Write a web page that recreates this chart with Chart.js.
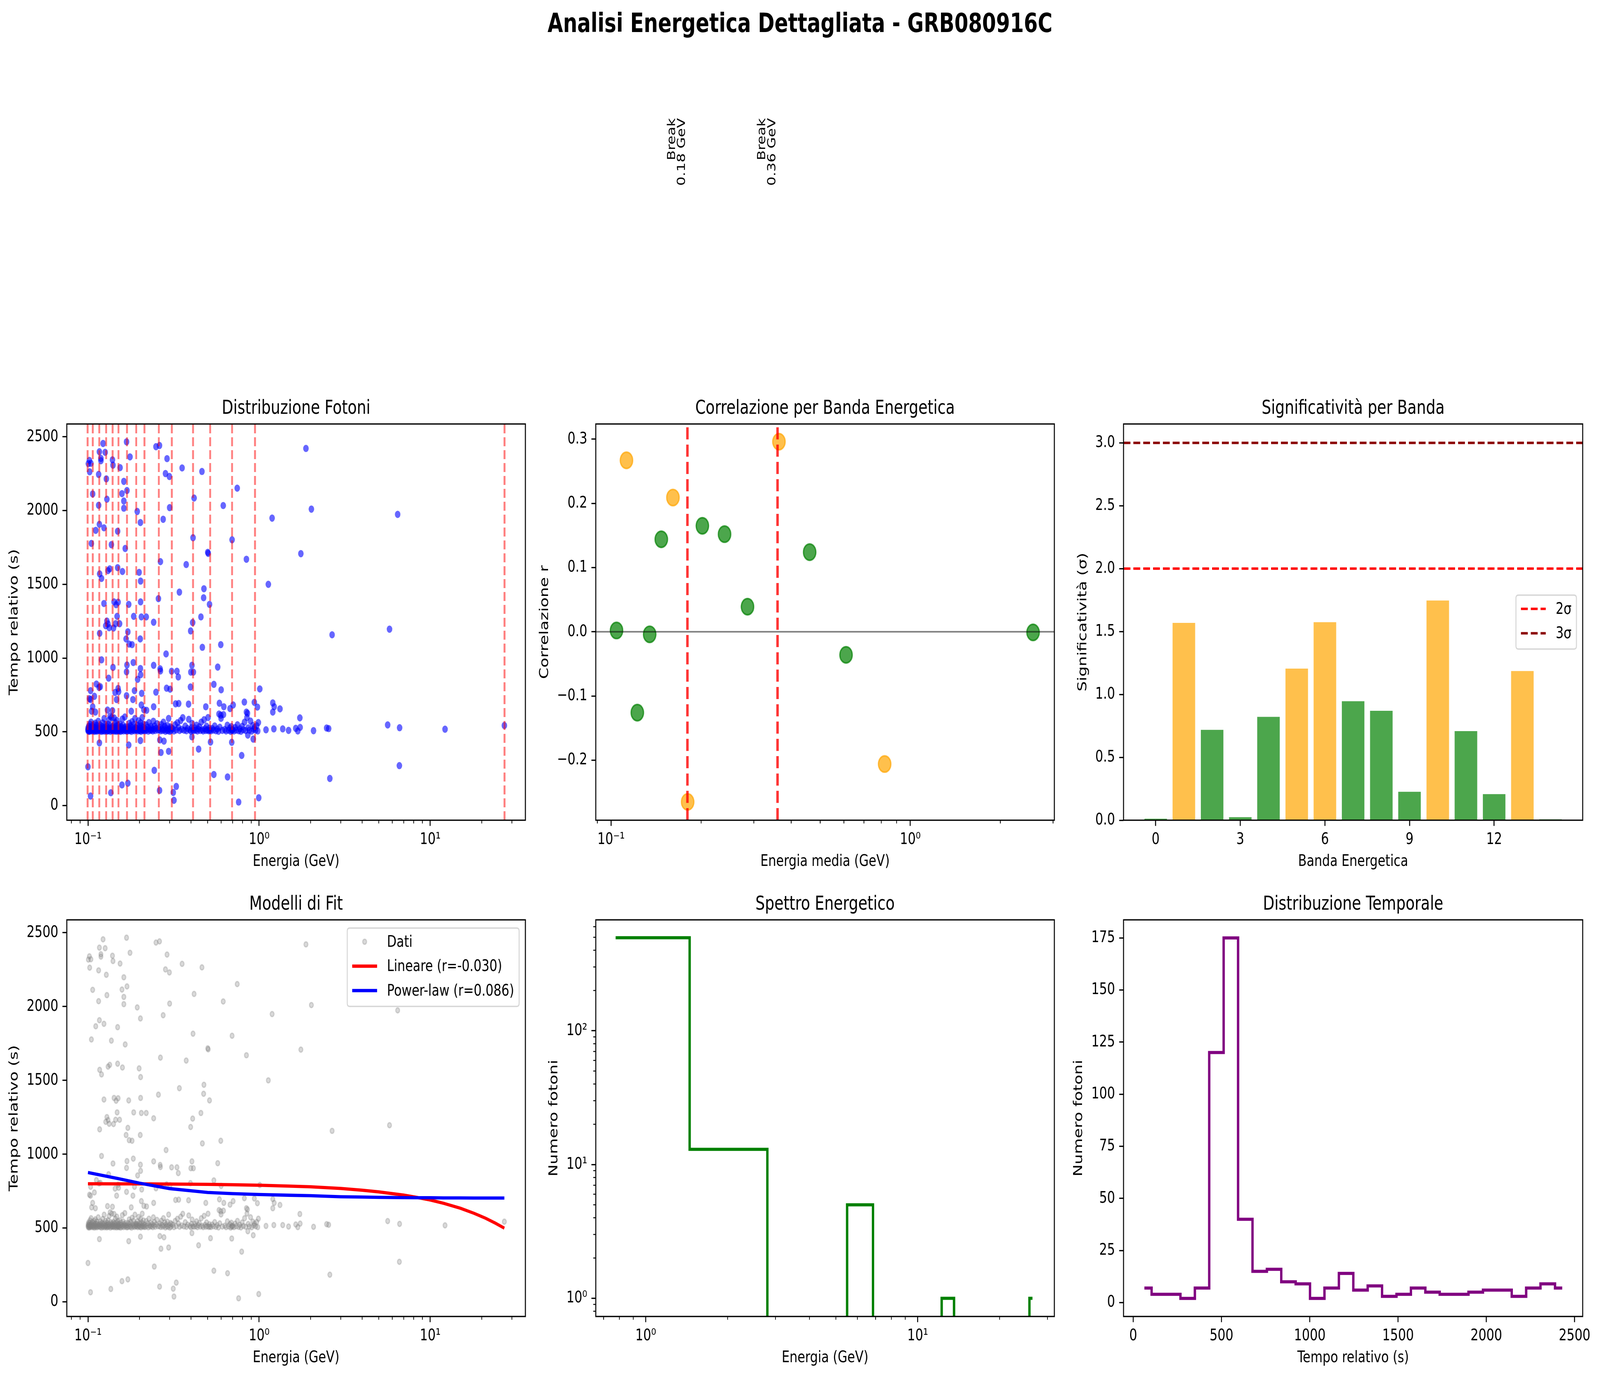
<!DOCTYPE html>
<html><head><meta charset="utf-8">
<script src="https://cdn.jsdelivr.net/npm/chart.js@4.4.1/dist/chart.umd.min.js"></script>
<style>
html,body{margin:0;padding:0;background:#fff;overflow:hidden;}
#wrap{position:relative;overflow:hidden;background:#fff;}
#fig{position:absolute;left:0;top:0;width:5366px;height:3529px;background:#fff;overflow:hidden;transform-origin:0 0;}
canvas{position:absolute;}
#suptitle{position:absolute;left:0;width:5366px;text-align:center;font-family:'DejaVu Sans';font-weight:bold;font-size:67px;line-height:67px;top:26px;white-space:nowrap;color:#000;}
</style></head><body>
<div id="wrap"><div id="fig"><div id="suptitle">Analisi Energetica Dettagliata - GRB080916C</div></div></div>
<script>
// ---------------- DATA ----------------
const scatterEnergy = [0.1005,0.1019,0.104,0.1023,0.1225,0.1166,0.119,0.119,0.126,0.1154,
0.139,0.140,0.128,0.154,0.168,0.176,0.162,0.169,0.158,0.162,
0.162,0.1065,0.1154,0.129,0.194,0.2025,0.2497,0.2618,0.2897,0.2836,
0.299,0.3548,0.4634,0.4169,0.30,0.275,0.7447,0.617,0.411,0.695,
0.501,0.504,0.843,1.191,1.878,2.02,1.754,6.45,0.1166,0.124,
0.111,0.149,0.1047,0.137,0.165,0.117,0.120,0.131,0.134,0.149,
0.159,0.199,0.203,0.265,0.375,0.342,0.476,0.474,0.513,0.258,
0.124,0.142,0.146,0.150,0.173,0.203,1.132,0.129,0.131,0.127,
0.133,0.141,0.145,0.148,0.153,0.185,0.205,0.219,0.242,0.409,
0.457,0.398,0.117,0.171,0.167,0.174,0.181,0.202,0.466,0.597,
2.67,5.78,0.286,0.12,0.140,0.169,0.184,0.168,0.2025,0.203,
0.242,0.264,0.265,0.308,0.331,0.337,0.405,0.399,0.413,0.573,
0.132,0.195,0.112,0.116,0.118,0.1036,0.150,0.151,0.144,0.147,
0.187,0.183,0.168,0.206,0.2497,0.288,0.302,0.397,0.544,0.600,
1.009,0.102,0.1035,0.109,0.1065,0.1050,0.1105,0.130,0.139,0.179,
0.205,0.212,0.220,0.242,0.325,0.339,0.387,0.488,0.586,0.622,
0.676,0.705,0.820,0.938,0.977,1.202,1.225,1.324,1.202,0.843,
0.855,0.583,0.597,1.73,1.097,1.219,1.374,1.486,1.637,1.683,
1.737,2.08,2.48,2.55,5.64,6.62,12.2,27.1,0.1166,0.173,
0.2025,0.263,0.278,0.520,0.692,0.924,0.859,0.405,0.443,0.267,
0.296,0.791,0.100,0.544,0.654,0.244,2.59,6.60,0.158,0.171,
0.262,0.328,0.315,0.318,0.136,0.1035,0.759,0.995];
const scatterTime = [2318,2340,2320,2263,2455,2399,2354,2338,2395,2245,
2344,2308,2215,2291,2466,2364,2198,2136,2115,2065,
2016,2113,2036,2077,1994,1919,2433,2441,2352,2251,
2231,2289,2265,2085,2020,1941,2152,2034,1816,1802,
1717,1710,1670,1949,2421,2010,1708,1974,1907,1883,
1866,1860,1777,1769,1743,1571,1540,1593,1605,1613,
1587,1581,1522,1654,1634,1447,1470,1409,1364,1403,
1370,1381,1362,1379,1364,1381,1500,1251,1231,1219,
1206,1204,1233,1283,1233,1283,1279,1279,1243,1241,
1279,1184,1168,1178,1130,1095,1091,1130,1073,1091,
1158,1196,1028,988,937,953,970,907,929,887,
951,927,913,911,911,872,951,905,905,939,
864,856,824,802,806,779,794,773,767,719,
779,719,745,761,769,796,789,804,822,785,
791,725,719,741,670,640,634,648,644,640,
682,650,646,670,690,692,688,670,694,670,
658,682,702,700,668,696,670,656,634,634,
626,621,613,595,514,520,520,510,524,506,
530,508,526,522,547,528,518,543,425,411,
441,445,437,431,429,451,478,466,383,360,
368,340,263,211,194,239,184,271,140,152,
103,130,89,36,87,65,24,53];
const clusterEnergy = [
0.1000,0.1002,0.1004,0.1006,0.1009,0.1012,0.1015,0.1018,0.1021,0.1024,0.1028,0.1031,0.1035,0.1038,0.1042,0.1046,0.1050,0.1054,0.1058,0.1063,
0.1070,0.1074,0.1078,0.1082,0.1086,0.1090,0.1095,0.1099,0.1104,0.1108,0.1113,0.1118,0.1123,0.1127,0.1132,0.1137,0.1142,0.1148,0.1153,0.1159,
0.1168,0.1174,0.1179,0.1185,0.1190,0.1196,0.1202,0.1207,0.1213,0.1219,0.1225,0.1231,0.1237,0.1243,0.1249,0.1255,0.1261,0.1266,0.1270,0.1274,
0.1281,0.1287,0.1293,0.1299,0.1305,0.1311,0.1317,0.1323,0.1329,0.1335,0.1341,0.1347,0.1353,0.1359,0.1365,0.1371,0.1377,0.1382,0.1386,0.1390,
0.1396,0.1402,0.1408,0.1414,0.1420,0.1426,0.1432,0.1438,0.1444,0.1450,0.1456,0.1462,0.1468,0.1474,0.1480,0.1486,0.1492,0.1497,0.1501,0.1504,
0.1512,0.1520,0.1528,0.1536,0.1544,0.1552,0.1561,0.1570,0.1579,0.1588,0.1597,0.1606,0.1615,0.1624,0.1633,0.1642,0.1651,0.1661,0.1671,0.1682,
0.1696,0.1707,0.1718,0.1729,0.1740,0.1751,0.1762,0.1773,0.1785,0.1797,0.1809,0.1821,0.1833,0.1845,0.1857,0.1869,0.1881,0.1893,0.1902,0.1910,
0.1921,0.1932,0.1943,0.1954,0.1965,0.1976,0.1987,0.1998,0.2009,0.2020,0.2031,0.2042,0.2053,0.2064,0.2075,0.2086,0.2097,0.2108,0.2119,0.2130,
0.2150,0.2170,0.2190,0.2210,0.2230,0.2250,0.2270,0.2290,0.2310,0.2330,0.2350,0.2370,0.2390,0.2410,0.2430,0.2450,0.2470,0.2500,0.2530,0.2560,
0.2610,0.2635,0.2660,0.2685,0.2710,0.2735,0.2760,0.2785,0.2810,0.2835,0.2860,0.2885,0.2910,0.2935,0.2960,0.2985,0.3010,0.3035,0.3055,0.3075,
0.3130,0.3180,0.3230,0.3280,0.3330,0.3380,0.3430,0.3480,0.3530,0.3580,0.3640,0.3700,0.3760,0.3820,0.3880,0.3940,0.3990,0.4030,0.4060,0.4090,
0.4160,0.4210,0.4260,0.4310,0.4360,0.4410,0.4470,0.4530,0.4590,0.4650,0.4710,0.4770,0.4830,0.4880,0.4930,0.4980,0.5030,0.5080,0.5120,0.5150,
0.5230,0.5320,0.5410,0.5500,0.5590,0.5690,0.5790,0.5890,0.5990,0.6090,0.6190,0.6300,0.6410,0.6520,0.6630,0.6740,0.6820,0.6880,0.6920,0.6940,
0.7020,0.7130,0.7240,0.7350,0.7470,0.7590,0.7710,0.7830,0.7960,0.8090,0.8220,0.8350,0.8490,0.8630,0.8770,0.8910,0.9050,0.9190,0.9300,0.9400,
0.955,0.968,0.982,0.990];
const clusterTime = [
512,526,505,518,538,509,521,503,533,515,552,508,524,511,566,517,529,506,541,514,
520,507,534,512,548,503,525,516,559,509,530,514,505,543,519,527,508,572,513,522,
511,529,506,544,517,523,503,535,512,561,508,526,518,590,505,531,514,549,509,521,
516,504,537,521,510,552,507,528,581,513,519,606,503,540,511,525,598,509,532,517,
508,523,541,512,595,505,530,516,563,509,521,538,504,577,514,527,510,546,519,506,
513,529,507,552,518,503,536,522,509,587,515,544,506,528,519,601,510,533,517,505,
519,506,534,512,558,524,508,541,515,503,569,527,511,549,518,507,590,530,513,522,
511,527,545,506,518,575,513,533,508,523,561,504,539,516,597,510,529,551,514,507,
522,508,547,515,531,505,563,519,510,537,513,526,506,572,518,540,509,524,555,512,
514,531,507,549,520,509,566,516,538,504,525,512,543,508,591,519,503,534,510,527,
521,506,548,513,562,530,509,577,517,596,511,539,508,523,585,514,505,528,557,512,
509,527,512,545,506,519,534,510,566,515,506,582,521,509,538,513,597,507,525,511,
507,523,512,540,508,519,504,531,592,510,617,516,506,545,511,526,503,536,514,509,
515,506,529,512,548,508,521,504,537,514,566,509,598,527,511,573,505,543,518,530,
512,541,506,563];

const bandEdges = [0.0995,0.1067,0.1164,0.1277,0.1393,0.1507,0.1690,0.1914,0.2138,0.2594,0.3090,0.4111,0.5176,0.6950,0.9462,27.16];
const bandIndex = [0,1,2,3,4,5,6,7,8,9,10,11,12,13,14];
const bandMeanEnergy = [0.1043,0.1126,0.1224,0.1346,0.1472,0.1610,0.1803,0.2019,0.2395,0.2858,0.364,0.461,0.610,0.821,2.572];
const bandCorrelation = [0.002,0.267,-0.126,-0.004,0.144,0.209,-0.265,0.165,0.152,0.039,0.296,0.124,-0.036,-0.206,-0.001];
const bandSignificance = [0.012,1.569,0.718,0.024,0.822,1.205,1.574,0.946,0.870,0.226,1.747,0.708,0.207,1.186,0.007];
const bandHighlighted = [0,1,0,0,0,1,1,0,0,0,1,0,0,1,0];
const breakEnergies = [0.18,0.36];
const breakLabels = ['Break\n0.18 GeV','Break\n0.36 GeV'];
const sigmaLevels = [2,3];
const sigmaLabels = ['2σ','3σ'];

const fitEnergy = [0.1,0.15,0.2,0.3,0.5,0.7,1,1.5,2,3,4,5,7,8.5,10,12,15,18,21,24,27.1];
const linearFitTime = [800,799,799,798,796,793,790,784,779,768,756,745,723,706,690,667,634,600,567,533,499];
const powerFitTime = [876,835,804,767,741,733,727,722,719,712,710,708,706,705,705,704,704,703,703,703,703];
const fitLabels = ['Dati','Lineare (r=-0.030)','Power-law (r=0.086)'];

const specEdges = [0.1,1.45,2.8,4.15,5.5,6.85,8.2,9.55,10.9,12.25,13.6,14.95,16.3,17.65,19.0,20.35,21.7,23.05,24.4,25.75,27.1];
const specCounts = [496,13,0,0,5,0,0,0,0,1,0,0,0,0,0,0,0,0,0,1];

const timeCenters = [63,145,227,308,390,471,553,635,716,798,879,961,1042,1124,1206,1287,1369,1450,1532,1614,1695,1777,1858,1940,2022,2103,2185,2266,2348,2430];
const timeCounts = [7,4,4,2,7,120,175,40,15,16,10,9,2,7,14,6,8,3,4,7,5,4,4,5,6,6,3,7,9,7];

const logTicks3 = [0.1,1,10], logLabels3 = ['10⁻¹','10⁰','10¹'];
const logTicks2 = [0.1,1], logLabels2 = ['10⁻¹','10⁰'];
const specXTicks = [1,10], specXLabels = ['10⁰','10¹'];
const specYTicks = [1,10,100], specYLabels = ['10⁰','10¹','10²'];
const timeYTicks = [0,500,1000,1500,2000,2500], timeYLabels = ['0','500','1000','1500','2000','2500'];
const corrTicks = [-0.2,-0.1,0,0.1,0.2,0.3], corrLabels = ['−0.2','−0.1','0.0','0.1','0.2','0.3'];
const sigTicks = [0,0.5,1,1.5,2,2.5,3], sigLabels = ['0.0','0.5','1.0','1.5','2.0','2.5','3.0'];
const bandTicks = [0,3,6,9,12], bandTickLabels = ['0','3','6','9','12'];
const histYTicks = [0,25,50,75,100,125,150,175], histYLabels = ['0','25','50','75','100','125','150','175'];
const histXTicks = [0,500,1000,1500,2000,2500], histXLabels = ['0','500','1000','1500','2000','2500'];

// ---------------- PAGE SCALE (fit the 5366x3529 figure into the actual window) ----------------
const FIG_W = 5366, FIG_H = 3529;
(function fit() {
  const vw = window.innerWidth || FIG_W, vh = window.innerHeight || FIG_H;
  const sx = Math.min(1, vw / FIG_W), sy = Math.min(1, vh / FIG_H);
  const wrap = document.getElementById('wrap');
  wrap.style.width = (FIG_W * sx) + 'px';
  wrap.style.height = (FIG_H * sy) + 'px';
  document.getElementById('fig').style.transform = 'scale(' + sx + ',' + sy + ')';
  document.body.style.height = (FIG_H * sy) + 'px';
  document.documentElement.style.height = (FIG_H * sy) + 'px';
})();

// ---------------- SETUP ----------------
const FONT = 'DejaVu Sans';
const TICK = 41.67;
Chart.defaults.font.family = FONT;
Chart.defaults.color = '#000';
const R = 90, HX = 131, TT = 79;
const decorCfg = {};

function makeCanvas(id, box, wy, extraTop) {
  const c = document.createElement('canvas');
  c.id = id;
  const left = box.l - wy, top = box.t - TT - extraTop;
  const w = wy + (box.r - box.l) + R, h = extraTop + TT + (box.b - box.t) + HX;
  c.width = w; c.height = h;
  c.style.left = left + 'px'; c.style.top = top + 'px';
  c.style.width = w + 'px'; c.style.height = h + 'px';
  document.getElementById('fig').appendChild(c);
  return c;
}

function scaleX(type, min, max, ticks, labels, title) {
  return {
    type, min, max, bounds: 'data', position: 'bottom', offset: false,
    grid: {display: true, offset: false, drawOnChartArea: false, drawTicks: true, tickLength: 14.6, tickWidth: 3.3, tickColor: '#000'},
    border: {display: false},
    ticks: {autoSkip: false, maxRotation: 0, minRotation: 0, padding: 11, color: '#000', font: {family: FONT, size: TICK}, callback: (v, i) => labels[i]},
    afterBuildTicks: s => { s.ticks = ticks.map(v => ({value: v})); },
    afterFit: s => { s.height = HX; },
    title: {display: true, text: title, color: '#000', font: {family: FONT, size: TICK}, padding: {top: 0, bottom: 0}}
  };
}
function scaleY(type, min, max, ticks, labels, title, wy) {
  return {
    type, min, max, bounds: 'data', position: 'left', offset: false,
    grid: {display: true, offset: false, drawOnChartArea: false, drawTicks: true, tickLength: 14.6, tickWidth: 3.3, tickColor: '#000'},
    border: {display: false},
    ticks: {autoSkip: false, maxRotation: 0, minRotation: 0, padding: 14, color: '#000', font: {family: FONT, size: TICK}, callback: (v, i) => labels[i]},
    afterBuildTicks: s => { s.ticks = ticks.map(v => ({value: v})); },
    afterFit: s => { s.width = wy; },
    title: {display: true, text: title, color: '#000', font: {family: FONT, size: TICK}, padding: {top: 0, bottom: 0}}
  };
}
function baseOptions(extraTop, titleText, scales) {
  return {
    responsive: false, maintainAspectRatio: false, animation: false, devicePixelRatio: 1, events: [],
    layout: {padding: {left: 0, right: R, top: extraTop, bottom: 0}},
    plugins: {
      legend: {display: false}, tooltip: {enabled: false},
      title: {display: true, text: titleText, fullSize: false, color: '#000',
        font: {family: FONT, size: 50, weight: 'normal', lineHeight: 1.2}, padding: {top: 10, bottom: 9}}
    },
    scales
  };
}

function minorVals(min, max) {
  const out = [];
  for (let d = Math.floor(Math.log10(min)) - 1; d <= Math.ceil(Math.log10(max)); d++) {
    for (let m = 2; m <= 9; m++) { const v = m * Math.pow(10, d); if (v >= min && v <= max) out.push(v); }
  }
  return out;
}

const decor = {
  id: 'decor',
  afterDraw(chart) {
    const cfg = decorCfg[chart.canvas.id] || {};
    const ctx = chart.ctx, a = chart.chartArea;
    ctx.save();
    ctx.setLineDash([]);
    ctx.strokeStyle = '#000';
    if (cfg.minorX) {
      const s = chart.scales.x; ctx.lineWidth = 2.5;
      for (const v of minorVals(s.min, s.max)) {
        const p = s.getPixelForValue(v);
        ctx.beginPath(); ctx.moveTo(p, a.bottom); ctx.lineTo(p, a.bottom + 8.3); ctx.stroke();
      }
    }
    if (cfg.minorY) {
      const s = chart.scales.y; ctx.lineWidth = 2.5;
      for (const v of minorVals(s.min, s.max)) {
        const p = s.getPixelForValue(v);
        ctx.beginPath(); ctx.moveTo(a.left, p); ctx.lineTo(a.left - 8.3, p); ctx.stroke();
      }
    }
    ctx.lineWidth = 3.3; ctx.strokeStyle = '#000';
    ctx.strokeRect(a.left, a.top, a.right - a.left, a.bottom - a.top);
    if (cfg.legend) {
      const L = cfg.legend;
      ctx.font = TICK + 'px "' + FONT + '"';
      const maxW = Math.max(...L.items.map(it => ctx.measureText(it.label).width));
      const boxW = 16.7 + 83.3 + 33.3 + maxW + 16.7;
      const rowH = 62.5, boxH = L.items.length * rowH + 13;
      const right = a.right - 21, left = right - boxW, top = a.top + L.offsetTop;
      const r = 8;
      ctx.beginPath();
      ctx.moveTo(left + r, top); ctx.lineTo(right - r, top); ctx.quadraticCurveTo(right, top, right, top + r);
      ctx.lineTo(right, top + boxH - r); ctx.quadraticCurveTo(right, top + boxH, right - r, top + boxH);
      ctx.lineTo(left + r, top + boxH); ctx.quadraticCurveTo(left, top + boxH, left, top + boxH - r);
      ctx.lineTo(left, top + r); ctx.quadraticCurveTo(left, top, left + r, top); ctx.closePath();
      ctx.fillStyle = 'rgba(255,255,255,0.8)'; ctx.fill();
      ctx.lineWidth = 3.3; ctx.strokeStyle = '#d6d6d6'; ctx.stroke();
      L.items.forEach((it, i) => {
        const cy = top + 35 + i * rowH;
        if (it.kind === 'line') {
          ctx.beginPath(); ctx.setLineDash(it.dash || []); ctx.lineWidth = it.width; ctx.strokeStyle = it.color;
          ctx.lineCap = 'butt';
          ctx.moveTo(left + 16.7, cy); ctx.lineTo(left + 100, cy); ctx.stroke(); ctx.setLineDash([]);
        } else {
          ctx.beginPath(); ctx.arc(left + 16.7 + 41.7, cy, it.radius, 0, Math.PI * 2);
          ctx.fillStyle = it.color; ctx.fill(); ctx.lineWidth = it.bw; ctx.strokeStyle = it.border; ctx.stroke();
        }
        ctx.fillStyle = '#000'; ctx.textBaseline = 'middle'; ctx.textAlign = 'left';
        ctx.fillText(it.label, left + 133.3, cy + 2);
      });
    }
    if (cfg.notes) {
      for (const n of cfg.notes) {
        const x = chart.scales.x.getPixelForValue(n.x), y = chart.scales.y.getPixelForValue(n.y);
        ctx.save(); ctx.translate(x, y); ctx.rotate(-Math.PI / 2);
        ctx.font = '37.5px "' + FONT + '"'; ctx.fillStyle = '#000'; ctx.textAlign = 'right'; ctx.textBaseline = 'alphabetic';
        const lines = n.text.split('\n');
        lines.forEach((ln, i) => ctx.fillText(ln, 0, -8 - (lines.length - 1 - i) * 33.7));
        ctx.restore();
      }
    }
    ctx.restore();
  }
};

const lineDefaults = {showLine: true, pointRadius: 0, pointHoverRadius: 0, fill: false, tension: 0};

// ---------- Chart 1: Distribuzione Fotoni ----------
{
  const box = {l: 224, r: 1762, t: 1085, b: 2099}, wy = 201;
  const c = makeCanvas('c1', box, wy, 0);
  const X = [0.0752, 35.97], Y = [-99, 2587];
  const vData = [];
  bandEdges.forEach(e => { vData.push({x: e, y: Y[0]}, {x: e, y: Y[1]}, {x: e, y: null}); });
  const pts = scatterEnergy.map((e, i) => ({x: e, y: scatterTime[i]})).concat(clusterEnergy.map((e, i) => ({x: e, y: clusterTime[i]})));
  decorCfg.c1 = {minorX: true};
  new Chart(c, {
    type: 'scatter',
    data: {datasets: [
      Object.assign({}, lineDefaults, {data: vData, borderColor: 'rgba(255,0,0,0.5)', borderWidth: 6.25, borderDash: [23, 10], spanGaps: false, order: 0}),
      {data: pts, pointRadius: 9.3, pointHoverRadius: 9.3, backgroundColor: 'rgba(0,0,255,0.6)', borderWidth: 0, order: 1}
    ]},
    options: baseOptions(0, 'Distribuzione Fotoni', {
      x: scaleX('logarithmic', X[0], X[1], logTicks3, logLabels3, 'Energia (GeV)'),
      y: scaleY('linear', Y[0], Y[1], timeYTicks, timeYLabels, 'Tempo relativo (s)', wy)
    }),
    plugins: [decor]
  });
}

// ---------- Chart 2: Correlazione per Banda Energetica ----------
{
  const box = {l: 1998, r: 3536, t: 1085, b: 2099}, wy = 196, extraTop = 756;
  const c = makeCanvas('c2', box, wy, extraTop);
  const X = [0.0889, 3.03], Y = [-0.2935, 0.3236];
  const vData = [];
  breakEnergies.forEach(e => { vData.push({x: e, y: Y[0]}, {x: e, y: Y[1]}, {x: e, y: null}); });
  decorCfg.c2 = {minorX: true, notes: breakEnergies.map((e, i) => ({x: e, y: 0.8, text: breakLabels[i]}))};
  new Chart(c, {
    type: 'scatter',
    data: {datasets: [
      Object.assign({}, lineDefaults, {data: vData, borderColor: 'rgba(255,0,0,0.8)', borderWidth: 8.3, borderDash: [31, 13.3], spanGaps: false, order: 0}),
      Object.assign({}, lineDefaults, {data: [{x: X[0], y: 0}, {x: X[1], y: 0}], borderColor: 'rgba(0,0,0,0.5)', borderWidth: 4.2, order: 1}),
      {data: bandMeanEnergy.map((e, i) => ({x: e, y: bandCorrelation[i]})), pointRadius: 20.8, pointHoverRadius: 20.8,
        backgroundColor: bandHighlighted.map(h => h ? 'rgba(255,165,0,0.7)' : 'rgba(0,128,0,0.7)'),
        borderColor: bandHighlighted.map(h => h ? 'rgba(255,165,0,0.7)' : 'rgba(0,128,0,0.7)'),
        borderWidth: 4.2, order: 2}
    ]},
    options: baseOptions(extraTop, 'Correlazione per Banda Energetica', {
      x: scaleX('logarithmic', X[0], X[1], logTicks2, logLabels2, 'Energia media (GeV)'),
      y: scaleY('linear', Y[0], Y[1], corrTicks, corrLabels, 'Correlazione r', wy)
    }),
    plugins: [decor]
  });
}

// ---------- Chart 3: Significatività per Banda ----------
{
  const box = {l: 3768, r: 5308, t: 1085, b: 2099}, wy = 161;
  const c = makeCanvas('c3', box, wy, 0);
  const X = [-1.14, 15.14], Y = [0, 3.15];
  const sigColors = ['rgba(255,0,0,1)', 'rgba(139,0,0,1)'];
  decorCfg.c3 = {legend: {offsetTop: 438, items: sigmaLevels.map((s, i) => ({kind: 'line', color: sigColors[i], width: 6.25, dash: [23, 10], label: sigmaLabels[i]}))}};
  new Chart(c, {
    type: 'bar',
    data: {datasets: [
      Object.assign({}, lineDefaults, {type: 'line', data: [{x: X[0], y: sigmaLevels[0]}, {x: X[1], y: sigmaLevels[0]}], borderColor: sigColors[0], borderWidth: 6.25, borderDash: [23, 10], order: 0}),
      Object.assign({}, lineDefaults, {type: 'line', data: [{x: X[0], y: sigmaLevels[1]}, {x: X[1], y: sigmaLevels[1]}], borderColor: sigColors[1], borderWidth: 6.25, borderDash: [23, 10], order: 0}),
      {type: 'bar', data: bandIndex.map(i => ({x: i, y: bandSignificance[i]})),
        backgroundColor: bandHighlighted.map(h => h ? 'rgba(255,165,0,0.7)' : 'rgba(0,128,0,0.7)'),
        borderWidth: 0, categoryPercentage: 1.0, barPercentage: 0.8, order: 1}
    ]},
    options: baseOptions(0, 'Significatività per Banda', {
      x: scaleX('linear', X[0], X[1], bandTicks, bandTickLabels, 'Banda Energetica'),
      y: scaleY('linear', Y[0], Y[1], sigTicks, sigLabels, 'Significatività (σ)', wy)
    }),
    plugins: [decor]
  });
}

// ---------- Chart 4: Modelli di Fit ----------
{
  const box = {l: 224, r: 1762, t: 2354, b: 3369}, wy = 201;
  const c = makeCanvas('c4', box, wy, 0);
  const X = [0.0752, 35.97], Y = [-99, 2587];
  const pts = scatterEnergy.map((e, i) => ({x: e, y: scatterTime[i]})).concat(clusterEnergy.map((e, i) => ({x: e, y: clusterTime[i]})));
  decorCfg.c4 = {minorX: true, legend: {offsetTop: 21, items: [
    {kind: 'marker', color: 'rgba(128,128,128,0.3)', border: 'rgba(128,128,128,0.3)', radius: 6.6, bw: 3.5, label: fitLabels[0]},
    {kind: 'line', color: '#ff0000', width: 8.3, label: fitLabels[1]},
    {kind: 'line', color: '#0000ff', width: 8.3, label: fitLabels[2]}
  ]}};
  new Chart(c, {
    type: 'scatter',
    data: {datasets: [
      Object.assign({}, lineDefaults, {data: fitEnergy.map((e, i) => ({x: e, y: powerFitTime[i]})), borderColor: '#0000ff', borderWidth: 8.3, order: 0}),
      Object.assign({}, lineDefaults, {data: fitEnergy.map((e, i) => ({x: e, y: linearFitTime[i]})), borderColor: '#ff0000', borderWidth: 8.3, order: 1}),
      {data: pts, pointRadius: 6.6, pointHoverRadius: 6.6, backgroundColor: 'rgba(128,128,128,0.3)', borderColor: 'rgba(128,128,128,0.3)', borderWidth: 3.5, order: 2}
    ]},
    options: baseOptions(0, 'Modelli di Fit', {
      x: scaleX('logarithmic', X[0], X[1], logTicks3, logLabels3, 'Energia (GeV)'),
      y: scaleY('linear', Y[0], Y[1], timeYTicks, timeYLabels, 'Tempo relativo (s)', wy)
    }),
    plugins: [decor]
  });
}

// ---------- Chart 5: Spettro Energetico ----------
{
  const box = {l: 1998, r: 3536, t: 2354, b: 3369}, wy = 165;
  const c = makeCanvas('c5', box, wy, 0);
  const X = [0.655, 31.8], Y = [0.731, 675];
  const shown = n => (n > 0 ? n : 1e-3);
  const n = specCounts.length;
  const steps = [{x: (specEdges[0] + specEdges[1]) / 2, y: shown(specCounts[0])}];
  for (let i = 1; i < n; i++) steps.push({x: specEdges[i], y: shown(specCounts[i])});
  steps.push({x: (specEdges[n - 1] + specEdges[n]) / 2, y: shown(specCounts[n - 1])});
  decorCfg.c5 = {minorX: true, minorY: true};
  new Chart(c, {
    type: 'scatter',
    data: {datasets: [
      Object.assign({}, lineDefaults, {data: steps, stepped: 'before', borderColor: '#008000', borderWidth: 8, clip: 0, borderJoinStyle: 'miter'})
    ]},
    options: baseOptions(0, 'Spettro Energetico', {
      x: scaleX('logarithmic', X[0], X[1], specXTicks, specXLabels, 'Energia (GeV)'),
      y: scaleY('logarithmic', Y[0], Y[1], specYTicks, specYLabels, 'Numero fotoni', wy)
    }),
    plugins: [decor]
  });
}

// ---------- Chart 6: Distribuzione Temporale ----------
{
  const box = {l: 3768, r: 5308, t: 2354, b: 3369}, wy = 175;
  const c = makeCanvas('c6', box, wy, 0);
  const X = [-55, 2546], Y = [-6.65, 183.65];
  decorCfg.c6 = {};
  new Chart(c, {
    type: 'scatter',
    data: {datasets: [
      Object.assign({}, lineDefaults, {data: timeCenters.map((t, i) => ({x: t, y: timeCounts[i]})), stepped: 'middle', borderColor: '#800080', borderWidth: 8, borderJoinStyle: 'miter'})
    ]},
    options: baseOptions(0, 'Distribuzione Temporale', {
      x: scaleX('linear', X[0], X[1], histXTicks, histXLabels, 'Tempo relativo (s)'),
      y: scaleY('linear', Y[0], Y[1], histYTicks, histYLabels, 'Numero fotoni', wy)
    }),
    plugins: [decor]
  });
}
</script>
</body></html>
